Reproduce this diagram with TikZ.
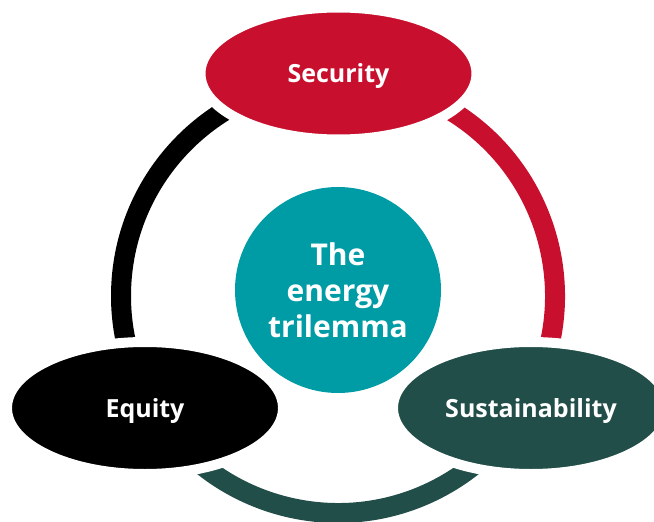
\documentclass[tikz,border=0pt]{standalone}
\usepackage{fontspec}
\setmainfont{Open Sans}
\usepackage{tikz}
\usetikzlibrary{shapes.geometric}
\definecolor{myred}{RGB}{200,16,46}
\definecolor{mygreen}{RGB}{33,78,73}
\definecolor{myteal}{RGB}{0,156,166}
\tikzset{
  ring/.style={line width=20pt, line cap=butt},
  pillar/.style={ellipse, draw=white, line width=10pt, minimum width=276pt, minimum height=132pt,
    inner sep=0pt, text depth=0pt, text=white, font=\fontsize{25}{30}\selectfont\bfseries}
}

\begin{document}
\begin{tikzpicture}[x=1pt, y=1pt,
	hub/.style={circle, fill=myteal, minimum size=206pt, inner sep=0pt, text=white, align=center,
		font=\fontsize{30}{36}\selectfont\bfseries}
]
\useasboundingbox (0,0) rectangle (654,-522);

% The ring
\coordinate (c) at (338,-296);
\draw[ring, black] (c) ++(90:217) arc[start angle=90, end angle=210, radius=217];
\draw[ring, myred] (c) ++(-30:217) arc[start angle=-30, end angle=90, radius=217];
\draw[ring, mygreen] (c) ++(210:217) arc[start angle=210, end angle=330, radius=217];

% The centre
\node[hub] (trilemma) at (338,-290) {The\\energy\\trilemma};

% The three ellipses
\node[pillar, fill=myred] (security) at (338.5,-73.5) {Security};
\node[pillar, fill=black] (equity) at (145,-408) {Equity};
\node[pillar, fill=mygreen] (sustainability) at (531,-408) {Sustainability};

\end{tikzpicture}
\end{document}
